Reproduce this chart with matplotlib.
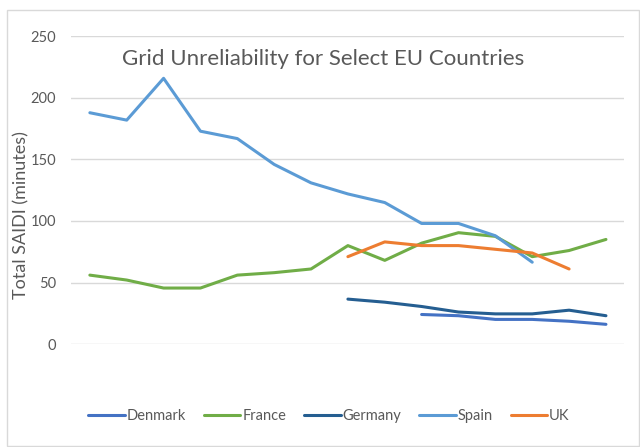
import numpy as np
import matplotlib.pyplot as plt
from matplotlib.patches import Rectangle

nan = np.nan

# 15 yearly categories (not labelled in the original)
years = np.arange(15)

denmark = [nan, nan, nan, nan, nan, nan, nan, nan, nan, 24, 23, 20, 20, 18.5, 16]
france = [56, 52, 45.5, 45.5, 56, 58, 61, 80, 68, 82, 90.5, 87.5, 71, 76, 85]
germany = [nan, nan, nan, nan, nan, nan, nan, 36.5, 34, 30.5, 26, 24.5, 24.5, 27.5, 23]
spain = [188, 182, 216, 173, 167, 146, 131, 122, 115, 98, 98, 88, 66.5, nan, nan]
uk = [nan, nan, nan, nan, nan, nan, nan, 71, 83, 80, 80, 77, 74, 61, nan]

series = ['Denmark', 'France', 'Germany', 'Spain', 'UK']
values = [denmark, france, germany, spain, uk]
colors = ['#4472C4', '#70AD47', '#255E91', '#5B9BD5', '#ED7D31']

plt.rcParams['font.family'] = ['Lato', 'DejaVu Sans']
grey = '#595959'

fig = plt.figure(figsize=(6.4, 4.47), dpi=100)
ax = fig.add_axes([0.1116, 0.2304, 0.864, 0.688])

for name, vals, col in zip(series, values, colors):
    ax.plot(years, vals, color=col, linewidth=2.2, label=name,
            solid_capstyle='round', solid_joinstyle='round')

ax.set_xlim(-0.5, 14.5)
ax.set_ylim(0, 250)
ax.set_yticks(np.arange(0, 251, 50))
ax.set_xticks([])
ax.grid(axis='y', color='#D9D9D9', linewidth=1)
ax.set_axisbelow(True)
for s in ax.spines.values():
    s.set_visible(False)
ax.tick_params(axis='y', length=0, labelsize=10.5, labelcolor=grey, pad=11)

ax.set_ylabel('Total SAIDI (minutes)', fontsize=13, color=grey)
ax.yaxis.set_label_coords(-0.076, 0.42)

ax.text(0.455, 0.927, 'Grid Unreliability for Select EU Countries',
        transform=ax.transAxes, ha='center', va='center',
        fontsize=16, color=grey)

fig.legend(loc='center', bbox_to_anchor=(0.514, 0.07), ncol=5, frameon=False,
           fontsize=10.5, handlelength=2.5, handletextpad=0.12,
           columnspacing=1.25, labelcolor=grey)

fig.patches.append(Rectangle((7 / 640, 1 / 447), 632 / 640, 436 / 447,
                             transform=fig.transFigure, fill=False,
                             edgecolor='#D9D9D9', linewidth=1))

fig.savefig('out.png', dpi=100)
